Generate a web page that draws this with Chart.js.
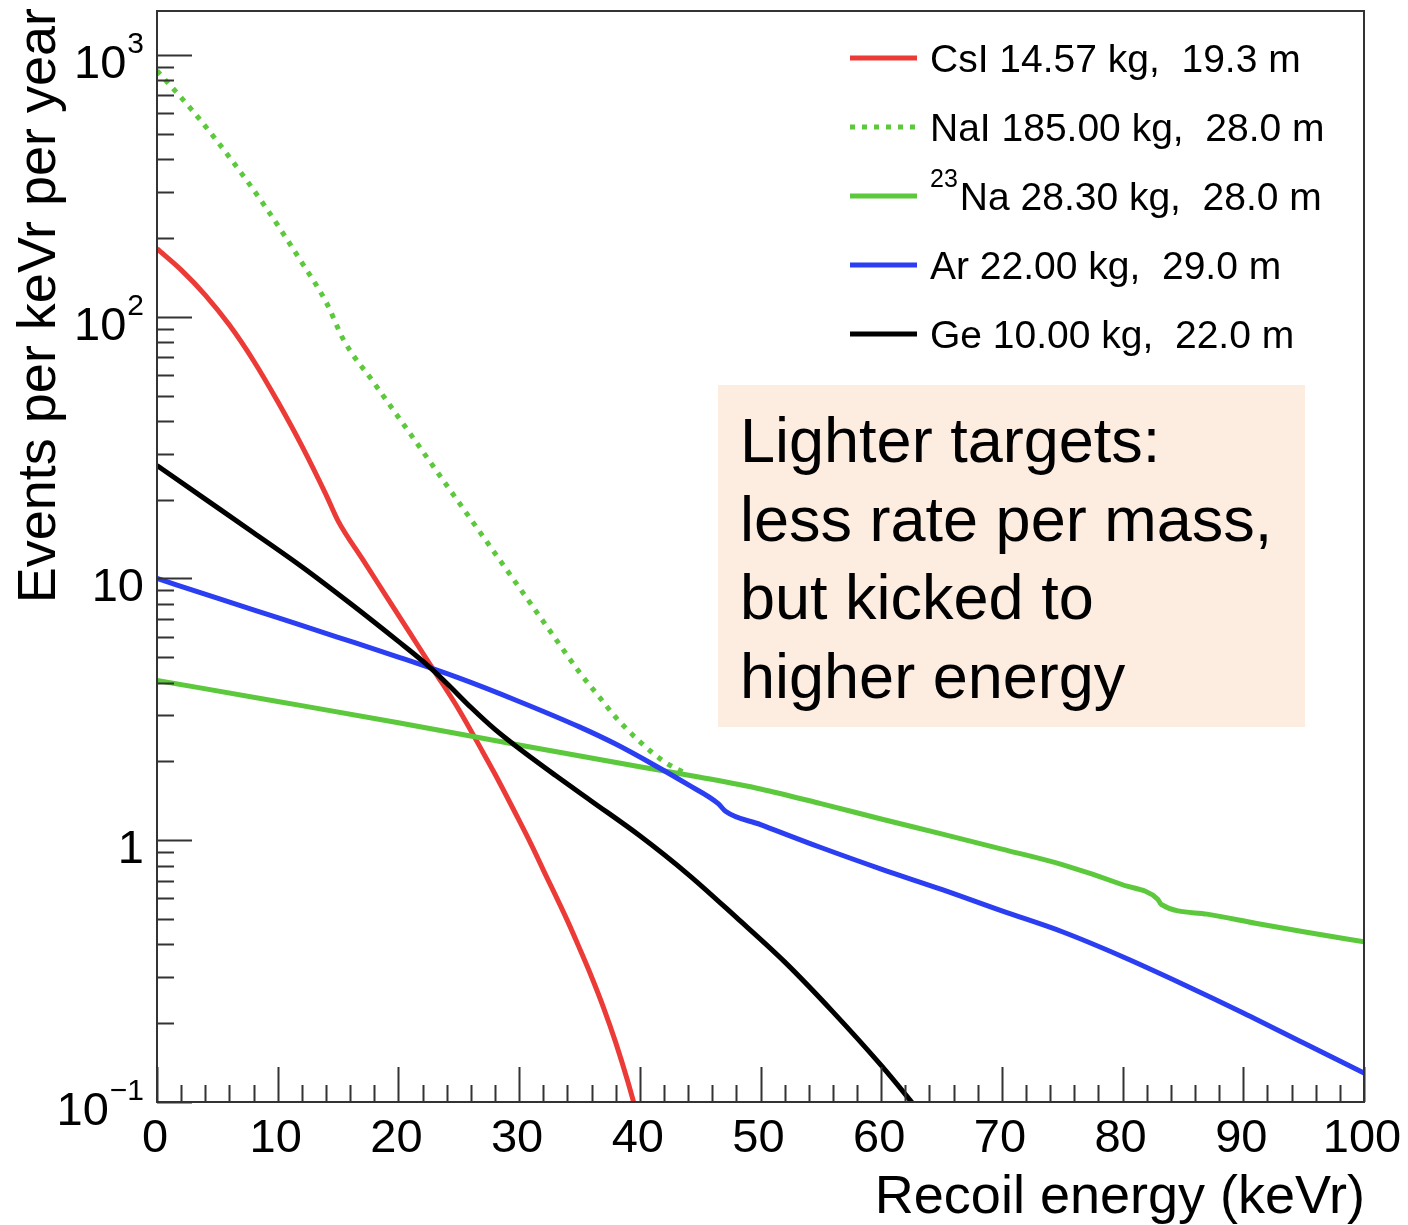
<!DOCTYPE html>
<html lang="en">
<head>
<meta charset="UTF-8">
<title>Recoil spectra</title>
<script src="https://cdn.jsdelivr.net/npm/chart.js@4.4.0/dist/chart.umd.min.js"></script>
<style>
  body { margin: 0; background: #fff; }
  #wrap { width: 1408px; height: 1225px; }
</style>
</head>
<body>
<div id="wrap"><canvas id="rateChart"></canvas></div>
<script>
// recoil energy (keVr) and rate (events per keVr per year)
var csiEnergy = [0, 2, 4, 6, 8, 10, 12, 14, 15, 17, 19, 21, 23, 25, 27, 28, 30, 31, 32, 34, 35, 36, 37, 38, 39, 40];
var csiRate   = [182, 151, 121, 92.9, 67.9, 47.4, 32.1, 20.9, 16.6, 11.9, 8.55, 6.14, 4.41, 3.16, 2.17, 1.79, 1.19, 0.964, 0.771, 0.493, 0.387, 0.301, 0.229, 0.169, 0.120, 0.082];

var naiEnergy = [0, 3, 6, 9, 12, 14, 15.5, 18, 21, 24, 27, 30, 33, 35, 36.7, 38, 40, 42, 44];
var naiRate   = [871, 608, 407, 262, 161, 114, 80.9, 55.7, 35.6, 22.7, 14.5, 9.25, 5.90, 4.38, 3.50, 2.95, 2.38, 2.00, 1.78];

var naEnergy = [0, 10, 20, 30, 40, 45, 50, 55, 60, 65, 70, 75, 80, 82.9, 83.2, 87, 91, 95, 100];
var naRate   = [4.08, 3.39, 2.81, 2.31, 1.91, 1.74, 1.57, 1.38, 1.205, 1.057, 0.925, 0.807, 0.676, 0.596, 0.569, 0.522, 0.482, 0.447, 0.409];

var arEnergy = [0, 5, 10, 15, 20, 25, 30, 35, 38, 41, 44, 46.5, 47.1, 50, 55, 60, 65, 70, 75, 80, 85, 90, 95, 100];
var arRate   = [10.0, 8.41, 7.08, 5.96, 5.01, 4.17, 3.39, 2.71, 2.33, 1.96, 1.63, 1.38, 1.29, 1.148, 0.938, 0.776, 0.649, 0.537, 0.447, 0.359, 0.282, 0.219, 0.168, 0.129];

var geEnergy = [0, 4, 8, 12, 16, 20, 22, 24, 26, 28, 30, 33, 36, 40, 44, 48, 52, 56, 60, 62, 64];
var geRate   = [27.0, 20.1, 14.96, 11.09, 8.04, 5.75, 4.84, 3.98, 3.22, 2.65, 2.24, 1.77, 1.41, 1.04, 0.741, 0.507, 0.343, 0.221, 0.138, 0.107, 0.082];

var seriesLabels = ['CsI 14.57 kg,  19.3 m', 'NaI 185.00 kg,  28.0 m', 'Na 28.30 kg,  28.0 m', 'Ar 22.00 kg,  29.0 m', 'Ge 10.00 kg,  22.0 m'];
var seriesIsotope = ['', '', '23', '', ''];
var seriesColors = ['#ec3b37', '#5cc83c', '#5cc83c', '#2b3ef2', '#000000'];

var xTickValues = [0, 10, 20, 30, 40, 50, 60, 70, 80, 90, 100];
var yDecades = [0.1, 1, 10, 100, 1000];
var yDecadeBase = ['10', '1', '10', '10', '10'];
var yDecadeExp = ['\u22121', '', '', '2', '3'];

var noteLines = ['Lighter targets:', 'less rate per mass,', 'but kicked to', 'higher energy'];

function pts(e, r) {
    var out = [];
    for (var i = 0; i < e.length; i++) {
        out.push({x: e[i], y: r[i]});
    }
    return out;
}

var FONT = '"Liberation Sans", Arial, Helvetica, sans-serif';

var frameDecor = {
    id: 'frameDecor',
    afterDatasetsDraw: function (chart) {
        var ctx = chart.ctx;
        var a = chart.chartArea;
        var xs = chart.scales.x, ys = chart.scales.y;
        ctx.save();

        // note box
        ctx.fillStyle = '#fdece0';
        ctx.fillRect(718, 385, 587, 342);
        ctx.fillStyle = '#000';
        ctx.font = '63px ' + FONT;
        ctx.textAlign = 'left';
        ctx.textBaseline = 'alphabetic';
        for (var n = 0; n < noteLines.length; n++) {
            ctx.fillText(noteLines[n], 740, 462 + n * 78.5);
        }

        // frame
        ctx.strokeStyle = '#333';
        ctx.lineWidth = 2;
        ctx.strokeRect(a.left, a.top, a.right - a.left, a.bottom - a.top);

        // inward ticks
        ctx.beginPath();
        for (var v = 0; v <= 100; v += 2) {
            var px = Math.round(xs.getPixelForValue(v)) + 0.5;
            var len = (v % 10 === 0) ? 35 : 17;
            ctx.moveTo(px, a.bottom);
            ctx.lineTo(px, a.bottom - len);
        }
        for (var d = 0; d < yDecades.length; d++) {
            for (var m = 1; m <= 9; m++) {
                var val = yDecades[d] * m;
                if (val > ys.max) break;
                var py = Math.round(ys.getPixelForValue(val)) + 0.5;
                var l2 = (m === 1) ? 35 : 17;
                ctx.moveTo(a.left, py);
                ctx.lineTo(a.left + l2, py);
            }
        }
        ctx.stroke();

        // x tick labels
        ctx.fillStyle = '#000';
        ctx.font = '47px ' + FONT;
        ctx.textAlign = 'center';
        for (var i = 0; i < xTickValues.length; i++) {
            ctx.fillText(String(xTickValues[i]), xs.getPixelForValue(xTickValues[i]) - 2, 1152);
        }

        // y tick labels with exponents
        for (var j = 0; j < yDecades.length; j++) {
            var yb = ys.getPixelForValue(yDecades[j]) + 23;
            var right = 144;
            ctx.textAlign = 'right';
            if (yDecadeExp[j]) {
                ctx.font = '30px ' + FONT;
                var ew = ctx.measureText(yDecadeExp[j]).width;
                ctx.fillText(yDecadeExp[j], right, yb - 25);
                right -= ew + 1;
            }
            ctx.font = '47px ' + FONT;
            ctx.fillText(yDecadeBase[j], right, yb);
        }

        // axis titles
        ctx.font = '54px ' + FONT;
        ctx.textAlign = 'right';
        ctx.fillText('Recoil energy (keVr)', a.right + 1, 1213);
        ctx.save();
        ctx.translate(55, 8);
        ctx.rotate(-Math.PI / 2);
        ctx.textAlign = 'right';
        ctx.fillText('Events per keVr per year', 0, 0);
        ctx.restore();

        // legend
        var ds = chart.data.datasets;
        for (var k = 0; k < seriesLabels.length; k++) {
            var cy = 58 + k * 69;
            ctx.save();
            ctx.strokeStyle = ds[k].borderColor;
            ctx.lineWidth = 5;
            ctx.setLineDash(ds[k].borderDash || []);
            ctx.beginPath();
            ctx.moveTo(850, cy);
            ctx.lineTo(917, cy);
            ctx.stroke();
            ctx.restore();
            ctx.textAlign = 'left';
            var tx = 930;
            if (seriesIsotope[k]) {
                ctx.font = '25px ' + FONT;
                ctx.fillText(seriesIsotope[k], tx, cy - 9);
                tx += ctx.measureText(seriesIsotope[k]).width + 2;
            }
            ctx.font = '39px ' + FONT;
            ctx.fillText(seriesLabels[k], tx, cy + 14);
        }

        ctx.restore();
    }
};

window.onload = function () {
    var ctx = document.getElementById('rateChart');
    new Chart(ctx, {
        type: 'line',
        data: {
            datasets: [
                {label: seriesLabels[0], data: pts(csiEnergy, csiRate), borderColor: seriesColors[0], order: 5},
                {label: seriesLabels[1], data: pts(naiEnergy, naiRate), borderColor: seriesColors[1], borderDash: [5, 7], order: 4},
                {label: seriesLabels[2], data: pts(naEnergy, naRate), borderColor: seriesColors[2], order: 3},
                {label: seriesLabels[3], data: pts(arEnergy, arRate), borderColor: seriesColors[3], order: 2},
                {label: seriesLabels[4], data: pts(geEnergy, geRate), borderColor: seriesColors[4], order: 1}
            ]
        },
        options: {
            responsive: true,
            maintainAspectRatio: false,
            animation: false,
            layout: {padding: {left: 157, top: 11, right: 44, bottom: 123}},
            elements: {
                line: {borderWidth: 5, cubicInterpolationMode: 'monotone', fill: false},
                point: {radius: 0}
            },
            plugins: {
                legend: {display: false},
                tooltip: {enabled: false}
            },
            scales: {
                x: {type: 'linear', min: 0, max: 100, display: false},
                y: {type: 'logarithmic', min: 0.1, max: 1472, display: false}
            }
        },
        plugins: [frameDecor]
    });
};
</script>
</body>
</html>
